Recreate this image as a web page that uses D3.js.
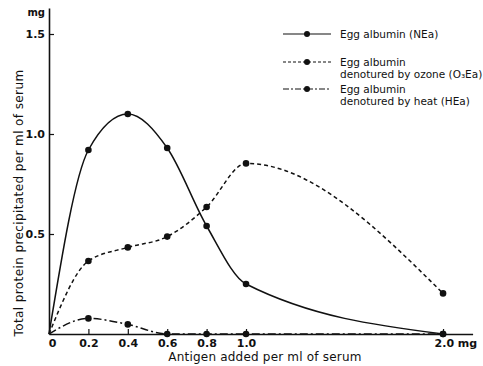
<!DOCTYPE html>
<html><head><meta charset="utf-8">
<script src="https://cdn.jsdelivr.net/npm/d3@7"></script>
<style>
body{margin:0;background:#fff;}
text{font-family:"DejaVu Sans",sans-serif;fill:#111;}
</style></head>
<body><svg id="c" width="483" height="366"></svg>
<script>
const antigen = [0, 0.2, 0.4, 0.6, 0.8, 1.0, 2.0];
const neaValues = [0, 0.92, 1.10, 0.93, 0.54, 0.25, 0];
const o3eaValues = [0, 0.365, 0.433, 0.487, 0.635, 0.853, 0.203];
const heaValues = [0, 0.078, 0.048, 0, 0, 0, 0];
const xTicks = [0, 0.2, 0.4, 0.6, 0.8, 1.0, 2.0];
const xTickLabels = ["0", "0.2", "0.4", "0.6", "0.8", "1.0", "2.0 mg"];
const yTicks = [0.5, 1.0, 1.5];
const yTickLabels = ["0.5", "1.0", "1.5"];
const seriesNames = [["Egg albumin (NEa)"], ["Egg albumin", "denotured by ozone (O\u2083Ea)"], ["Egg albumin", "denotured by heat (HEa)"]];
const dashStyles = ["none", "4,3", "8,3,2,3"];

const svg = d3.select("#c");
const x = d3.scaleLinear().domain([0, 2.15]).range([49, 472.6]);
const y = d3.scaleLinear().domain([0, 1.63]).range([334, 8]);
const ink = "#111";

// axes
const xAxis = d3.axisBottom(x).tickValues(xTicks).tickSizeInner(-5).tickSizeOuter(0)
  .tickPadding(5).tickFormat((d, i) => xTickLabels[i]);
const gx = svg.append("g").attr("transform", `translate(0,${y(0)})`).call(xAxis);
gx.select(".domain").attr("stroke", ink).attr("stroke-width", 1.6);
gx.selectAll(".tick line").attr("stroke", ink).attr("stroke-width", 1.2)
  .filter(d => d === 0).remove();
gx.selectAll(".tick text").attr("font-size", 11).attr("font-weight", "bold").attr("fill", ink)
  .filter(d => d === 2.0).attr("text-anchor", "start").attr("dx", -9);
gx.selectAll(".tick text").filter(d => d === 0).attr("dx", 3);

const yAxis = d3.axisLeft(y).tickValues(yTicks).tickSizeInner(-5).tickSizeOuter(0)
  .tickPadding(4).tickFormat((d, i) => yTickLabels[i]);
const gy = svg.append("g").attr("transform", `translate(${x(0)},0)`).call(yAxis);
gy.select(".domain").attr("stroke", ink).attr("stroke-width", 1.6);
gy.selectAll(".tick line").attr("stroke", ink).attr("stroke-width", 1.2);
gy.selectAll(".tick text").attr("font-size", 11).attr("font-weight", "bold").attr("fill", ink);

svg.append("text").attr("x", 45).attr("y", 16).attr("text-anchor", "end")
  .attr("font-size", 10).attr("font-weight", "bold").text("mg");

svg.append("text").attr("x", 265).attr("y", 361).attr("text-anchor", "middle")
  .attr("font-size", 12).attr("letter-spacing", 0.2).text("Antigen added per ml of serum");
svg.append("text").attr("transform", "translate(23,203) rotate(-90)").attr("text-anchor", "middle")
  .attr("font-size", 12).attr("letter-spacing", 0.4).text("Total protein precipitated per ml of serum");

// series
const series = [neaValues, o3eaValues, heaValues];
const line = d3.line().x(d => x(d[0])).y(d => y(d[1])).curve(d3.curveMonotoneX);
series.forEach((vals, si) => {
  const pts = antigen.map((a, i) => [a, vals[i]]);
  svg.append("path").attr("d", line(pts)).attr("fill", "none").attr("stroke", ink)
    .attr("stroke-width", 1.5).attr("stroke-dasharray", dashStyles[si]);
  svg.selectAll(null).data(pts.filter(p => p[0] > 0)).enter().append("circle")
    .attr("cx", d => x(d[0])).attr("cy", d => y(d[1])).attr("r", 3.3).attr("fill", ink);
});

// legend
const legendY = [34, 62, 89];
seriesNames.forEach((names, i) => {
  const g = svg.append("g").attr("transform", `translate(0,${legendY[i]})`);
  g.append("line").attr("x1", 283).attr("x2", 331).attr("stroke", ink).attr("stroke-width", 1.2)
    .attr("stroke-dasharray", i === 0 ? "none" : (i === 1 ? "3,2" : "6,2,2,2"));
  g.append("circle").attr("cx", 307).attr("r", 3).attr("fill", ink);
  names.forEach((t, j) => {
    g.append("text").attr("x", 340).attr("y", 4 + j * 12).attr("font-size", 10.5).text(t);
  });
});
</script></body></html>
